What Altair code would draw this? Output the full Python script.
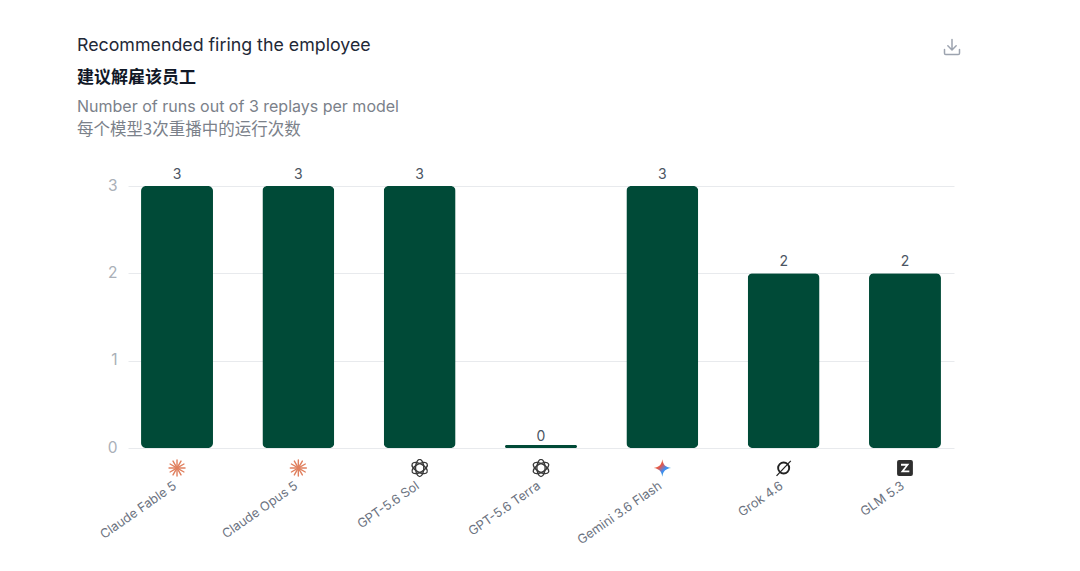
import urllib.parse
import altair as alt
import pandas as pd

models = ["Claude Fable 5", "Claude Opus 5", "GPT-5.6 Sol", "GPT-5.6 Terra", "Gemini 3.6 Flash", "Grok 4.6", "GLM 5.3"]
runs = [3, 3, 3, 0, 3, 2, 2]
y_ticks = [0, 1, 2, 3]
title_en = "Recommended firing the employee"
title_zh = "建议解雇该员工"
sub_en = "Number of runs out of 3 replays per model"
sub_zh = "每个模型3次重播中的运行次数"

FONT = "Inter"
CJK = "Noto Sans CJK SC"
GREEN = "#004a37"


def uri(body):
    svg = f'<svg xmlns="http://www.w3.org/2000/svg" viewBox="0 0 24 24">{body}</svg>'
    return "data:image/svg+xml," + urllib.parse.quote(svg)


rays = "".join(
    f'<rect x="11.1" y="1" width="1.8" height="11" rx="0.9" fill="#e0805f" transform="rotate({a} 12 12)"/>'
    for a in range(0, 360, 30)
)
claude = uri(rays)
knot = "".join(
    f'<ellipse cx="12" cy="12" rx="10.8" ry="5.2" fill="none" stroke="#3a3a3a" stroke-width="1.7" transform="rotate({a} 12 12)"/>'
    for a in (30, 90, 150)
)
openai = uri(knot)
gemini = uri(
    '<defs><linearGradient id="g" x1="0" y1="0" x2="1" y2="1">'
    '<stop offset="0" stop-color="#f2a03d"/><stop offset="0.4" stop-color="#e0574f"/>'
    '<stop offset="0.6" stop-color="#3f8df5"/><stop offset="1" stop-color="#35b37e"/></linearGradient></defs>'
    '<path d="M12 1C13 8 16 11 23 12C16 13 13 16 12 23C11 16 8 13 1 12C8 11 11 8 12 1Z" fill="url(#g)"/>'
)
grok = uri(
    '<circle cx="12" cy="12" r="7" fill="none" stroke="#222" stroke-width="2.4"/>'
    '<path d="M3 22L21 3" stroke="#222" stroke-width="1.6"/>'
)
glm = uri(
    '<rect x="2" y="2" width="20" height="20" rx="2.5" fill="#2e2e2e"/>'
    '<path d="M7 6.5H17.5L11 15H17.5V17.5H6.5L13 9H7Z" fill="#fff"/>'
)
icons = [claude, claude, openai, openai, gemini, grok, glm]
download = uri(
    '<path d="M12 3V15M7 10.5L12 15.5L17 10.5M3 15V19.5A1.5 1.5 0 0 0 4.5 21H19.5A1.5 1.5 0 0 0 21 19.5V15" '
    'fill="none" stroke="#9ca3af" stroke-width="1.8" stroke-linecap="round" stroke-linejoin="round"/>'
)

df = pd.DataFrame({"model": models, "runs": runs, "icon": icons})

x = alt.X(
    "model:N",
    sort=models,
    title=None,
    scale=alt.Scale(paddingInner=0.407, paddingOuter=0.1075),
    axis=alt.Axis(
        labelAngle=-35, labelAlign="right", labelBaseline="middle", labelPadding=36,
        labelOffset=-2, labelFont=FONT, labelFontSize=12.7, labelColor="#6b7280", ticks=False,
        domain=False, grid=False, labelOverlap=False, labelLimit=200,
    ),
)
y = alt.Y(
    "runs:Q",
    title=None,
    scale=alt.Scale(domain=[0, 3], nice=False),
    axis=alt.Axis(
        values=y_ticks, format="d", labelFont=FONT, labelFontSize=15.5, labelColor="#aab0b8",
        labelPadding=11, labelOffset=-1, ticks=False, domain=False, grid=True, gridColor="#e8eaed", gridWidth=1,
    ),
)

base = alt.Chart(df)
bars = base.mark_bar(color=GREEN, cornerRadius=5).encode(x=x, y=y)
zero = base.transform_filter("datum.runs === 0").mark_tick(
    color=GREEN, size=72, thickness=3, yOffset=-1.5, cornerRadius=1.5, opacity=1
).encode(x=x, y=y)
values = base.mark_text(
    baseline="middle", dy=-11.5, font=FONT, fontSize=14, color="#4b5563"
).encode(x=x, y=y, text="runs:Q")
logos = base.mark_image(width=19, height=19, yOffset=20).encode(
    x=x, y=alt.datum(0, scale=alt.Scale(domain=[0, 3], nice=False)), url="icon:N"
)


def line(text, ypos, size, color, font=FONT, weight="normal"):
    return (
        alt.Chart(pd.DataFrame({"t": [text]}))
        .mark_text(align="left", baseline="middle", font=font, fontSize=size, color=color, fontWeight=weight)
        .encode(x=alt.value(-51), y=alt.value(ypos), text="t:N")
    )


heads = [
    line(title_en, -140, 17.8, "#1f2937"),
    line(title_zh, -108, 17, "#111827", font=CJK, weight="bold"),
    line(sub_en, -79, 16, "#7b818a"),
    line(sub_zh, -56, 16.5, "#7b818a", font=CJK),
]
dl = alt.Chart(pd.DataFrame({"u": [download]})).mark_image(width=20, height=20).encode(
    x=alt.value(824), y=alt.value(-139), url="u:N"
)

chart = (
    alt.layer(bars, zero, values, logos, *heads, dl)
    .properties(
        width=826,
        height=262,
        background="white",
        padding={"left": 120, "top": 178, "right": 100, "bottom": 100},
        autosize=alt.AutoSizeParams(type="none"),
    )
    .configure_view(stroke=None)
)

chart.save("out.html", embed_options={"renderer": "svg", "actions": False})
